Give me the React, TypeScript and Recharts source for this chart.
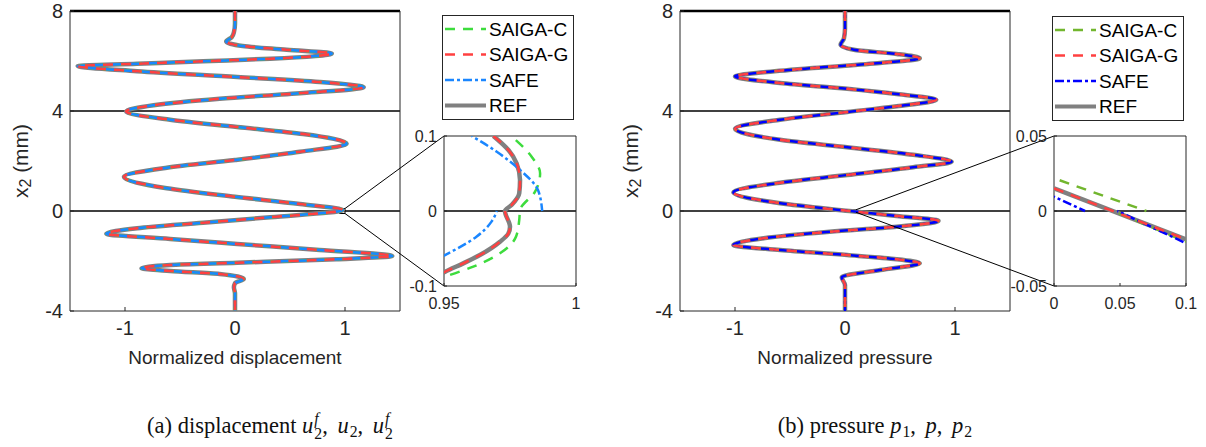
import React from 'react';
import { ScatterChart, Scatter, XAxis, YAxis, ReferenceLine, ReferenceArea } from 'recharts';

// ---------------- Data ----------------
const seriesNames = ['SAIGA-C', 'SAIGA-G', 'SAFE', 'REF'];

// Panel (a): normalized displacement vs x2 (mm)
const dispX2 = [8, 7.5, 7.15, 6.95, 6.78, 6.6, 6.45, 6.3, 6.09, 5.99, 5.89, 5.8, 5.59, 5.36, 5.16, 4.95, 4.72, 4.49, 4.23, 3.98, 3.65, 3.36, 3.08, 2.69, 2.37, 2.04, 1.73, 1.37, 0.91, 0.57, 0.28, 0.04, -0.25, -0.47, -0.69, -0.91, -1.12, -1.32, -1.56, -1.8, -1.93, -2.07, -2.16, -2.29, -2.4, -2.52, -2.72, -2.89, -3.05, -3.3, -4];
const dispVal = [0, 0, -0.01, -0.03, -0.08, 0.07, 0.47, 0.88, 0.32, -0.29, -0.89, -1.43, -0.89, 0.02, 0.77, 1.17, 0.62, -0.14, -0.74, -0.99, -0.59, 0.02, 0.62, 1.015, 0.59, 0, -0.62, -1.01, -0.62, 0, 0.59, 0.98, 0.32, -0.29, -0.89, -1.17, -0.59, 0.02, 0.77, 1.43, 0.92, 0.02, -0.59, -0.85, -0.59, -0.14, 0.08, 0, -0.01, 0, 0];

// Panel (a) zoom
const dispZoomRefX2 = [0.1, 0.0813, 0.0636, 0.0413, 0.0236, 0.008, 0, -0.021, -0.0298, -0.041, -0.0587, -0.0698, -0.081, -0.09];
const dispZoomRefVal = [0.9687, 0.9744, 0.9775, 0.9788, 0.9785, 0.9756, 0.9731, 0.975, 0.9744, 0.9712, 0.9636, 0.9573, 0.9504, 0.9465];
const dispZoomCX2 = [0.1, 0.0724, 0.0502, 0.0258, 0.0013, -0.012, -0.034, -0.0564, -0.0742, -0.0876, -0.095];
const dispZoomCVal = [0.9755, 0.9832, 0.9864, 0.9845, 0.9788, 0.9785, 0.9773, 0.9712, 0.9611, 0.9504, 0.9445];
const dispZoomSafeUpX2 = [0.1, 0.079, 0.0547, 0.028, 0];
const dispZoomSafeUpVal = [0.9605, 0.97, 0.9788, 0.9856, 0.9872];
const dispZoomSafeLoX2 = [0, -0.0142, -0.034, -0.0587, -0.07];
const dispZoomSafeLoVal = [0.97, 0.968, 0.9624, 0.9504, 0.944];

// Panel (b): normalized pressure vs x2 (mm)
const presX2 = [8, 7.3, 6.9, 6.65, 6.45, 6.28, 6.11, 5.92, 5.72, 5.55, 5.39, 5.12, 4.89, 4.68, 4.45, 4.19, 3.96, 3.65, 3.29, 2.85, 2.55, 2.25, 1.97, 1.75, 1.44, 1.13, 0.75, 0.31, 0, -0.2, -0.39, -0.63, -0.83, -1.09, -1.36, -1.56, -1.76, -1.93, -2.09, -2.36, -2.65, -2.96, -3.3, -4];
const presVal = [0, 0, -0.01, -0.04, 0.08, 0.47, 0.68, 0.32, -0.29, -0.74, -1.0, -0.59, 0.02, 0.47, 0.83, 0.47, 0.02, -0.59, -1.0, -0.59, 0.02, 0.62, 0.97, 0.62, 0.02, -0.59, -1.015, -0.59, 0.04, 0.47, 0.85, 0.47, -0.14, -0.74, -1.015, -0.59, 0.02, 0.47, 0.68, 0.32, -0.03, 0, 0, 0];

// Panel (b) zoom
const presZoomRefX2 = [0.0151, -0.0189];
const presZoomRefVal = [0, 0.1];
const presZoomCUpX2 = [0.0218, 0];
const presZoomCUpVal = [0, 0.07];
const presZoomCLoX2 = [0, -0.0205];
const presZoomCLoVal = [0.045, 0.1];
const presZoomSafeUpX2 = [0.0096, 0];
const presZoomSafeUpVal = [0, 0.0235];
const presZoomSafeLoX2 = [0, -0.0215];
const presZoomSafeLoVal = [0.048, 0.1];

// Axes / ticks
const mainXTicks = [-1, 0, 1];
const mainYTicks = [-4, 0, 4, 8];
const zoomAXTicks = [0.95, 1];
const zoomAYTicks = [-0.1, 0, 0.1];
const zoomBXTicks = [0, 0.05, 0.1];
const zoomBYTicks = [-0.05, 0, 0.05];
const layerLines = [0, 4];

// ---------------- Styles ----------------
const AX = '#262626';
const GRAY = '#808080';
const RED = '#ff4040';
const colorsA = { c: '#3ddc3d', g: RED, s: '#1a86ff', r: GRAY };
const colorsB = { c: '#72b62e', g: RED, s: '#0000ff', r: GRAY };
const DASH = '10 8';
const DASHDOT = '9 3 3 3';
const SANS = '"Liberation Sans", Arial, Helvetica, sans-serif';

const pts = (vals: number[], x2: number[]) => vals.map((v, i) => ({ x: v, y: x2[i] }));
const noShape = () => <g />;

type LineSpec = { data: { x: number; y: number }[]; color: string; width: number; dash?: string; offset?: number; curve: any };

// drawing order: REF (bottom), SAIGA-C, SAFE, SAIGA-G (top); dash offsets interleave the patterns
function buildLines(c: any, ref: any[], sc: any[][], sg: any[], sf: any[][], curve: string, dashW: number, refW: number): LineSpec[] {
  const out: LineSpec[] = [{ data: ref, color: c.r, width: refW, curve }];
  sc.forEach((d) => out.push({ data: d, color: c.c, width: dashW, dash: DASH, offset: -6, curve }));
  sf.forEach((d) => out.push({ data: d, color: c.s, width: dashW, dash: DASHDOT, offset: -10, curve }));
  out.push({ data: sg, color: c.g, width: dashW, dash: DASH, offset: 0, curve });
  return out;
}

function Plot(props: any) {
  const { left, top, w, h, yW, xH, mr, xDomain, yDomain, xTicks, yTicks, font, tickLen, xTM, yTM, lines, hLines, topStroke, topWidth, xLabel, yLabel, zoom } = props;
  const width = yW + w + 1 + mr;
  const height = 10 + h + xH;
  const xLabelContent = (p: any) => {
    const vb = p.viewBox;
    return (
      <text x={vb.x + vb.width / 2} y={vb.y + 46} textAnchor="middle" dominantBaseline="central" fontSize={19} fill={AX} fontFamily={SANS}>
        {xLabel}
      </text>
    );
  };
  const yLabelContent = (p: any) => {
    const vb = p.viewBox;
    const cx = vb.x + 20;
    const cy = vb.y + vb.height / 2;
    return (
      <text x={cx} y={cy} transform={`rotate(-90 ${cx} ${cy})`} textAnchor="middle" dominantBaseline="central" fontSize={21} fill={AX} fontFamily={SANS}>
        x<tspan dy={5} fontSize={16}>2</tspan>
        <tspan dy={-5}> (mm)</tspan>
      </text>
    );
  };
  return (
    <div style={{ position: 'absolute', left: left - yW, top: top - 10, width, height }}>
      <ScatterChart width={width} height={height} margin={{ top: 9, right: mr, bottom: 0, left: 0 }}>
        <XAxis
          xAxisId={0}
          type="number"
          dataKey="x"
          domain={xDomain}
          ticks={xTicks}
          allowDataOverflow
          interval={0}
          height={xH}
          tickSize={-tickLen}
          tickMargin={xTM}
          axisLine={{ stroke: AX }}
          tickLine={{ stroke: AX }}
          tick={{ fill: AX, fontSize: font, fontFamily: SANS }}
          label={xLabel ? { content: xLabelContent } : undefined}
        />
        <XAxis
          xAxisId="top"
          orientation="top"
          type="number"
          dataKey="x"
          domain={xDomain}
          ticks={xTicks}
          allowDataOverflow
          interval={0}
          height={1}
          tickSize={-tickLen}
          tick={false}
          axisLine={{ stroke: topStroke, strokeWidth: topWidth }}
          tickLine={{ stroke: AX }}
        />
        <YAxis
          yAxisId={0}
          type="number"
          dataKey="y"
          domain={yDomain}
          ticks={yTicks}
          allowDataOverflow
          interval={0}
          width={yW}
          tickSize={-tickLen}
          tickMargin={yTM}
          axisLine={{ stroke: AX }}
          tickLine={{ stroke: AX }}
          tick={{ fill: AX, fontSize: font, fontFamily: SANS }}
          label={yLabel ? { content: yLabelContent } : undefined}
        />
        <YAxis
          yAxisId="right"
          orientation="right"
          type="number"
          dataKey="y"
          domain={yDomain}
          ticks={yTicks}
          allowDataOverflow
          interval={0}
          width={1}
          tickSize={-tickLen}
          tick={false}
          axisLine={{ stroke: AX }}
          tickLine={{ stroke: AX }}
        />
        {hLines.map((v: number) => (
          <ReferenceLine key={v} y={v} stroke="#000" strokeWidth={1.5} />
        ))}
        {lines.map((l: LineSpec, i: number) => (
          <Scatter
            key={i}
            data={l.data}
            fill={l.color}
            shape={noShape}
            line={{ stroke: l.color, strokeWidth: l.width, strokeDasharray: l.dash, strokeDashoffset: l.offset, fill: 'none' }}
            lineJointType={l.curve}
            isAnimationActive={false}
          />
        ))}
        {zoom && (
          <ReferenceArea x1={zoom[0]} x2={zoom[1]} y1={zoom[2]} y2={zoom[3]} fill="none" stroke="#000" strokeWidth={1} ifOverflow="visible" />
        )}
      </ScatterChart>
    </div>
  );
}

function LegendBox({ left, top, c }: any) {
  const rows = [
    { name: seriesNames[0], color: c.c, width: 2.5, dash: DASH },
    { name: seriesNames[1], color: c.g, width: 2.5, dash: DASH },
    { name: seriesNames[2], color: c.s, width: 2.5, dash: DASHDOT },
    { name: seriesNames[3], color: c.r, width: 4, dash: undefined },
  ];
  return (
    <svg style={{ position: 'absolute', left, top }} width={133} height={106}>
      <rect x={0.5} y={0.5} width={131} height={104} fill="#fff" stroke={AX} strokeWidth={1} />
      {rows.map((r, i) => {
        const cy = 14 + i * 25.5;
        return (
          <g key={r.name}>
            <line x1={3} x2={44} y1={cy} y2={cy} stroke={r.color} strokeWidth={r.width} strokeDasharray={r.dash} />
            <text x={47} y={cy} dominantBaseline="central" fontSize={19} fill="#000" fontFamily={SANS}>
              {r.name}
            </text>
          </g>
        );
      })}
    </svg>
  );
}

// geometry of plot areas (page pixels)
const MA = { left: 70, top: 11, w: 330, h: 300 };
const MB = { left: 680, top: 11, w: 330, h: 300 };
const ZA = { left: 444, top: 136, w: 132, h: 150 };
const ZB = { left: 1054, top: 136, w: 132, h: 150 };
const mainXD: [number, number] = [-1.5, 1.5];
const mainYD: [number, number] = [-4, 8];
const zoomAXD: [number, number] = [0.95, 1];
const zoomAYD: [number, number] = [-0.1, 0.1];
const zoomBXD: [number, number] = [0, 0.1];
const zoomBYD: [number, number] = [-0.05, 0.05];

const mapX = (g: any, d: number[], v: number) => g.left + ((v - d[0]) / (d[1] - d[0])) * g.w;
const mapY = (g: any, d: number[], v: number) => g.top + ((d[1] - v) / (d[1] - d[0])) * g.h;

function SupSub({ base, sup, sub }: any) {
  return (
    <span style={{ whiteSpace: 'nowrap' }}>
      <i>{base}</i>
      <span style={{ display: 'inline-block', verticalAlign: '-0.38em', fontSize: '0.7em', lineHeight: '0.95em', textAlign: 'left', marginLeft: 1 }}>
        <i style={{ display: 'block' }}>{sup}</i>
        <span style={{ display: 'block' }}>{sub}</span>
      </span>
    </span>
  );
}
function Sub({ base, sub }: any) {
  return (
    <span style={{ whiteSpace: 'nowrap' }}>
      <i>{base}</i>
      <span style={{ fontSize: '0.7em', verticalAlign: '-0.25em', marginLeft: 1 }}>{sub}</span>
    </span>
  );
}
const Gap = () => <span style={{ display: 'inline-block', width: 4 }} />;

export default function App() {
  const mainA = buildLines(colorsA, pts(dispVal, dispX2), [pts(dispVal, dispX2)], pts(dispVal, dispX2), [pts(dispVal, dispX2)], 'monotoneY', 2.5, 4.5);
  const mainB = buildLines(colorsB, pts(presVal, presX2), [pts(presVal, presX2)], pts(presVal, presX2), [pts(presVal, presX2)], 'monotoneY', 2.5, 4.5);
  const zoomA = buildLines(
    colorsA,
    pts(dispZoomRefVal, dispZoomRefX2),
    [pts(dispZoomCVal, dispZoomCX2)],
    pts(dispZoomRefVal, dispZoomRefX2),
    [pts(dispZoomSafeUpVal, dispZoomSafeUpX2), pts(dispZoomSafeLoVal, dispZoomSafeLoX2)],
    'monotoneY',
    2.5,
    4.5
  );
  const zoomB = buildLines(
    colorsB,
    pts(presZoomRefVal, presZoomRefX2),
    [pts(presZoomCUpVal, presZoomCUpX2), pts(presZoomCLoVal, presZoomCLoX2)],
    pts(presZoomRefVal, presZoomRefX2),
    [pts(presZoomSafeUpVal, presZoomSafeUpX2), pts(presZoomSafeLoVal, presZoomSafeLoX2)],
    'linear',
    2.5,
    4.5
  );

  const common = { yW: 70, xH: 60, mr: 9, font: 20, tickLen: 4, xTM: 14, yTM: 11, topStroke: '#000', topWidth: 2.5 };
  const zcommon = { yW: 50, xH: 30, mr: 20, font: 16, tickLen: 3, xTM: 15, yTM: 10, topStroke: AX, topWidth: 1, hLines: [0] };

  // connector lines from zoom box (in main plot) to inset corners
  const conA = {
    x1: mapX(MA, mainXD, zoomAXD[1]),
    yT: mapY(MA, mainYD, zoomAYD[1]),
    yB: mapY(MA, mainYD, zoomAYD[0]),
  };
  const conB = {
    x1: mapX(MB, mainXD, zoomBXD[1]),
    yT: mapY(MB, mainYD, zoomBYD[1]),
    yB: mapY(MB, mainYD, zoomBYD[0]),
  };

  const captionStyle: React.CSSProperties = {
    position: 'absolute',
    top: 411,
    width: 540,
    textAlign: 'center',
    fontFamily: '"Liberation Serif", "Times New Roman", serif',
    fontSize: 22.5,
    lineHeight: '30px',
    color: '#111',
  };

  return (
    <div style={{ position: 'absolute', left: 0, top: 0, width: 1206, height: 447, background: '#fff', fontFamily: SANS, overflow: 'hidden' }}>
      <Plot {...MA} {...common} xDomain={mainXD} yDomain={mainYD} xTicks={mainXTicks} yTicks={mainYTicks} lines={mainA} hLines={layerLines} xLabel="Normalized displacement" yLabel zoom={[zoomAXD[0], zoomAXD[1], zoomAYD[0], zoomAYD[1]]} />
      <Plot {...MB} {...common} xDomain={mainXD} yDomain={mainYD} xTicks={mainXTicks} yTicks={mainYTicks} lines={mainB} hLines={layerLines} xLabel="Normalized pressure" yLabel zoom={[zoomBXD[0], zoomBXD[1], zoomBYD[0], zoomBYD[1]]} />

      <svg style={{ position: 'absolute', left: 0, top: 0, pointerEvents: 'none' }} width={1206} height={447}>
        <line x1={conA.x1} y1={conA.yT} x2={ZA.left} y2={ZA.top} stroke="#000" strokeWidth={1} />
        <line x1={conA.x1} y1={conA.yB} x2={ZA.left} y2={ZA.top + ZA.h} stroke="#000" strokeWidth={1} />
        <line x1={conB.x1} y1={conB.yT} x2={ZB.left} y2={ZB.top} stroke="#000" strokeWidth={1} />
        <line x1={conB.x1} y1={conB.yB} x2={ZB.left} y2={ZB.top + ZB.h} stroke="#000" strokeWidth={1} />
      </svg>

      <Plot {...ZA} {...zcommon} xDomain={zoomAXD} yDomain={zoomAYD} xTicks={zoomAXTicks} yTicks={zoomAYTicks} lines={zoomA} />
      <Plot {...ZB} {...zcommon} xDomain={zoomBXD} yDomain={zoomBYD} xTicks={zoomBXTicks} yTicks={zoomBYTicks} lines={zoomB} />

      <LegendBox left={442} top={15} c={colorsA} />
      <LegendBox left={1052} top={16} c={colorsB} />

      <div style={{ ...captionStyle, left: 0 }}>
        (a) displacement <SupSub base="u" sup="f" sub="2" />,<Gap /> <Sub base="u" sub="2" />,<Gap /> <SupSub base="u" sup="f" sub="2" />
      </div>
      <div style={{ ...captionStyle, left: 605 }}>
        (b) pressure <Sub base="p" sub="1" />,<Gap /> <i>p</i>,<Gap /> <Sub base="p" sub="2" />
      </div>
    </div>
  );
}
